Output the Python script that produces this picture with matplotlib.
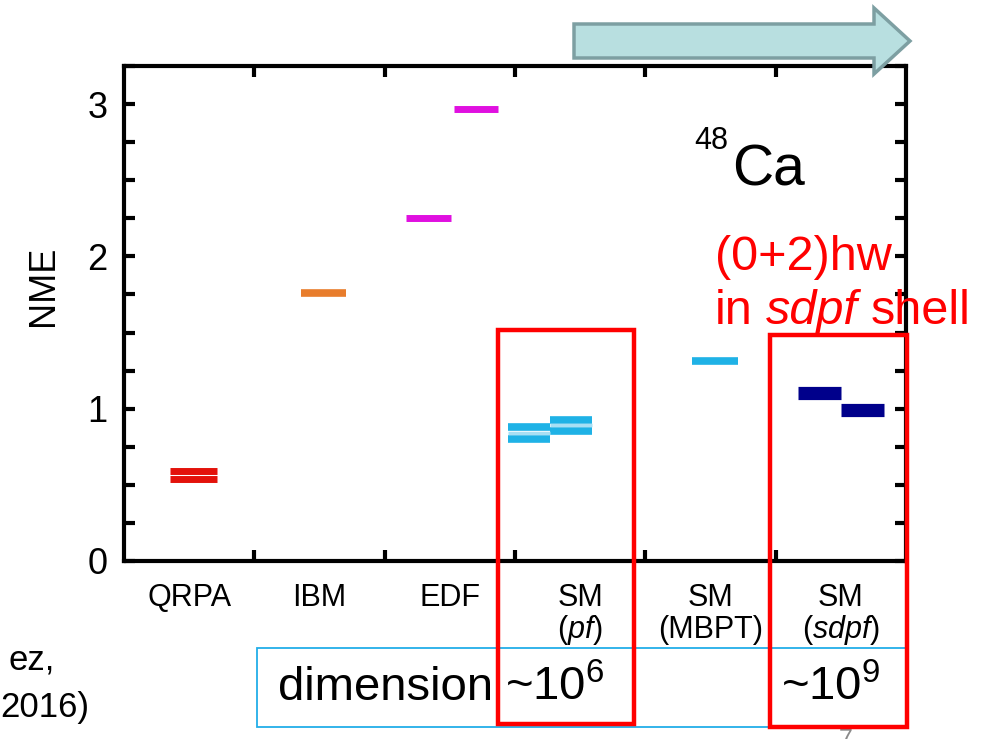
import matplotlib
matplotlib.use("Agg")
import matplotlib.pyplot as plt
from matplotlib.patches import Rectangle, FancyArrow
from matplotlib.ticker import MultipleLocator

W, H = 985, 739
FONT = ["Liberation Sans", "DejaVu Sans"]

plt.rcParams["font.family"] = FONT
plt.rcParams["mathtext.fontset"] = "custom"
plt.rcParams["mathtext.rm"] = "Liberation Sans"
plt.rcParams["mathtext.it"] = "Liberation Sans:italic"

# ---- data (NME values) ------------------------------------------------
methods = ["QRPA", "IBM", "EDF", "SM", "SM", "SM"]
subnames = ["", "", "", r"($\mathit{pf}$)", "(MBPT)", r"($\mathit{sdpf}$)"]
bar_cat = [0, 0, 1, 2, 2, 3, 3, 3, 3, 4, 5, 5]
bar_val = [0.59, 0.54, 1.76, 2.25, 2.97, 0.88, 0.80, 0.925, 0.855, 1.31, 1.10, 0.99]
bar_col = ["#e3120b", "#e3120b", "#e87d2c", "#e010e0", "#e010e0",
           "#1fb2e6", "#1fb2e6", "#1fb2e6", "#1fb2e6", "#1fb2e6",
           "#00008b", "#00008b"]

# layout of each bar inside its column: (left offset, right offset, thickness pt)
bar_span = [(-0.15, 0.21, 5.0), (-0.15, 0.21, 5.0), (-0.14, 0.20, 5.5),
            (-0.34, 0.01, 5.0), (0.03, 0.37, 5.0),
            (-0.55, -0.23, 5.5), (-0.55, -0.23, 5.5), (-0.23, 0.09, 5.5), (-0.23, 0.09, 5.5),
            (-0.14, 0.21, 5.5), (-0.33, 0.0, 9.5), (0.0, 0.33, 9.5)]


def fx(x):
    return x / W


def fy(y):
    return 1 - y / H


fig = plt.figure(figsize=(W / 100, H / 100), dpi=100)
ax = fig.add_axes([fx(124), fy(561), fx(906) - fx(124), fy(66) - fy(561)])

for c, v, col, (a, b, lw) in zip(bar_cat, bar_val, bar_col, bar_span):
    ax.hlines(v, c + a, c + b, color=col, linewidth=lw, capstyle="butt")
# light seams between the paired pf results
for (v1, v2), (a, b, _) in [((0.88, 0.80), bar_span[5]), ((0.925, 0.855), bar_span[7])]:
    ax.hlines((v1 + v2) / 2, 3 + a, 3 + b, color="#a8dff4", linewidth=2.5)

ax.set_xlim(-0.5, 5.5)
ax.set_ylim(0, 3.25)
ax.set_xticks([0.5, 1.5, 2.5, 3.5, 4.5])
ax.set_xticklabels([])
ax.yaxis.set_major_locator(MultipleLocator(1))
ax.yaxis.set_minor_locator(MultipleLocator(0.25))
ax.tick_params(which="both", direction="in", top=True, right=True,
               length=8, width=3)
ax.tick_params(axis="y", labelsize=26, pad=12)
for s in ax.spines.values():
    s.set_linewidth(3)
fig.text(fx(44), fy(286), "NME", fontsize=26, rotation=90, ha="center", va="center")

for i, (m, s) in enumerate(zip(methods, subnames)):
    ax.text(i, -0.245, m, ha="center", va="center", fontsize=22)
    if s:
        ax.text(i, -0.45, s, ha="center", va="center", fontsize=22)

# 48Ca label
fig.text(fx(732), fy(171), "Ca", fontsize=41, ha="left", va="center")
fig.text(fx(694), fy(141), "48", fontsize=22, ha="left", va="center")

# red annotation
red = "#ff0000"
fig.text(fx(715), fy(258), "(0+2)hw", color=red, fontsize=35, va="center")
fig.text(fx(715), fy(312), "in", color=red, fontsize=35, va="center")
fig.text(fx(766), fy(312), "sdpf", color=red, fontsize=35, style="italic", va="center")
fig.text(fx(871), fy(312), "shell", color=red, fontsize=35, va="center")

# dimension box
fig.patches.append(Rectangle((fx(257), fy(727)), fx(906) - fx(257), fy(648) - fy(727),
                             transform=fig.transFigure, fill=False, edgecolor="#22aee8",
                             linewidth=1.3, zorder=3))
fig.text(fx(278), fy(688), "dimension", fontsize=34, va="center")
fig.text(fx(505), fy(688), r"~10$^{6}$", fontsize=34, va="center")
fig.text(fx(781), fy(688), r"~10$^{9}$", fontsize=34, va="center")

# red highlight boxes
for x0, y0, x1, y1 in [(498, 330, 634, 724), (770, 335, 907, 727)]:
    fig.patches.append(Rectangle((fx(x0), fy(y1)), fx(x1) - fx(x0), fy(y0) - fy(y1),
                                 transform=fig.transFigure, fill=False, edgecolor=red,
                                 linewidth=3.2, zorder=4))

# arrow at the top
fig.patches.append(FancyArrow(fx(574), fy(41), fx(910) - fx(574), 0,
                              width=34 / H, head_width=66 / H, head_length=36 / W,
                              length_includes_head=True, transform=fig.transFigure,
                              facecolor="#b8dfe0", edgecolor="#7d9fa2", linewidth=2.5))

# cropped reference text at the left and page number
fig.text(fx(55), fy(660), "ez,", fontsize=25, ha="right", va="center")
fig.text(fx(89), fy(707), "2016)", fontsize=25, ha="right", va="center")
fig.text(fx(846), fy(740), "7", fontsize=18, color="#8a8a8a", ha="center", va="center")

fig.savefig("out.png", dpi=100)
